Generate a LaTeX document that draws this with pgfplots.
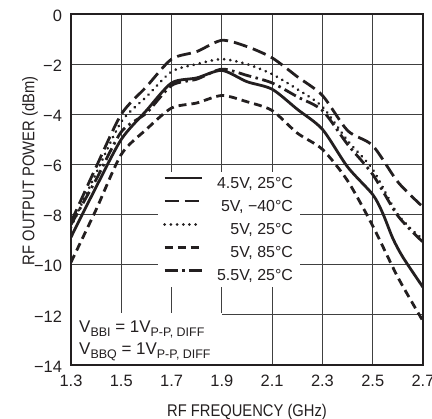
\documentclass[border=0pt]{standalone}
\usepackage{fontspec}
\setmainfont{Liberation Sans}
\newfontfamily\cond[FakeStretch=0.87]{Liberation Sans}
\usepackage{pgfplots}
\pgfplotsset{compat=1.18}
\definecolor{ink}{HTML}{231F20}
\newcommand{\sub}[1]{\raisebox{-3.5bp}{\fontsize{12.5}{12}\selectfont #1}}
\begin{document}
\begin{tikzpicture}
\begin{axis}[
  name=ax,
  scale only axis, width=352bp, height=351bp,
  xmin=1.3, xmax=2.7, ymin=-14, ymax=0,
  xtick={1.3,1.5,1.7,1.9,2.1,2.3,2.5,2.7},
  xticklabels={1.3,1.5,1.7,1.9,2.1,2.3,2.5,2.7},
  ytick={-14,-12,-10,-8,-6,-4,-2,0},
  yticklabels={−14,−12,−10,−8,−6,−4,−2,0},
  grid=major,
  major grid style={black!75, line width=0.8bp},
  axis line style={line width=1.5bp, ink},
  tick style={draw=none},
  ticklabel style={font=\fontsize{16.5}{16.5}\selectfont, text=ink},
  xticklabel style={yshift=-7bp},
  yticklabel style={xshift=-5.5bp, yshift=-1.5bp},
  xlabel={RF FREQUENCY (GHz)},
  ylabel={RF OUTPUT POWER (dBm)},
  xlabel style={font=\cond\fontsize{17}{17}\selectfont, text=ink, at={(axis description cs:0.5,-0.134)}, anchor=center},
  ylabel style={font=\cond\fontsize{17}{17}\selectfont, text=ink, at={(axis description cs:-0.1165,0.553)}, anchor=center},
  legend cell align=right,
  legend image code/.code={\draw[#1] (0bp,5.5bp) -- (37bp,5.5bp);},
  legend style={at={(rel axis cs:0.247,0.55)}, anchor=north west, fill=white, draw=none,
    inner xsep=5bp, inner ysep=3bp, row sep=6.5bp,
    font=\fontsize{16}{16}\selectfont, text=ink,
    /tikz/every odd column/.append style={column sep=12bp}},
  every axis plot/.append style={ink, smooth, tension=0.45},
]
\fill[white] ([xshift=0.8bp,yshift=0.8bp]axis cs:1.3,-14) rectangle (axis cs:1.9,-11.93);
% 4.5V, 25C
\addplot[line width=2.8bp] coordinates {
(1.3,-8.9) (1.4,-6.9) (1.5,-5.0) (1.6,-3.85) (1.7,-2.75) (1.8,-2.55) (1.9,-2.25)
(2.0,-2.7) (2.1,-3.0) (2.2,-3.8) (2.3,-4.6) (2.4,-6.1) (2.5,-7.2) (2.54,-7.95)
(2.58,-8.95) (2.62,-9.7) (2.7,-10.9)};
\addlegendentry{4.5V, 25°C}
% 5V, -40C
\addplot[line width=2.8bp, dash pattern=on 14bp off 6bp] coordinates {
(1.3,-8.3) (1.4,-6.1) (1.5,-4.0) (1.6,-2.9) (1.7,-1.8) (1.8,-1.5) (1.9,-1.05)
(2.0,-1.3) (2.1,-1.75) (2.2,-2.5) (2.3,-3.25) (2.4,-4.65) (2.5,-5.25) (2.6,-6.7) (2.7,-7.7)};
\addlegendentry{5V, −40°C}
% 5V, 25C
\addplot[line width=3bp, line cap=round, dash pattern=on 0.01bp off 6.2bp] coordinates {
(1.3,-8.5) (1.4,-6.35) (1.5,-4.3) (1.6,-3.3) (1.7,-2.3) (1.8,-2.0) (1.9,-1.8)
(2.0,-2.0) (2.1,-2.4) (2.2,-3.0) (2.3,-3.7) (2.4,-5.05) (2.5,-6.2) (2.6,-8.0) (2.7,-9.0)};
\addlegendentry{5V, 25°C}
% 5V, 85C
\addplot[line width=2.8bp, dash pattern=on 8bp off 5bp] coordinates {
(1.3,-9.9) (1.4,-7.8) (1.5,-5.6) (1.6,-4.6) (1.7,-3.75) (1.8,-3.55) (1.9,-3.25)
(2.0,-3.5) (2.1,-3.85) (2.2,-4.75) (2.3,-5.4) (2.4,-6.65) (2.5,-8.45) (2.6,-10.5) (2.7,-12.25)};
\addlegendentry{5V, 85°C}
% 5.5V, 25C
\addplot[line width=2.8bp, dash pattern=on 13bp off 4.5bp on 2.5bp off 4.5bp] coordinates {
(1.3,-8.4) (1.4,-6.6) (1.5,-4.7) (1.6,-3.95) (1.7,-2.85) (1.8,-2.6) (1.9,-2.2)
(2.0,-2.45) (2.1,-2.75) (2.2,-3.3) (2.3,-3.85) (2.4,-5.2) (2.5,-6.4) (2.6,-8.05) (2.7,-9.1)};
\addlegendentry{5.5V, 25°C}
\node[anchor=base west, inner sep=0pt, text=ink, font=\fontsize{17}{17}\selectfont] at (axis cs:1.332,-12.72) {V\sub{BBI} = 1V\sub{P-P, DIFF}};
\node[anchor=base west, inner sep=0pt, text=ink, font=\fontsize{17}{17}\selectfont] at (axis cs:1.332,-13.6) {V\sub{BBQ} = 1V\sub{P-P, DIFF}};
\end{axis}
\pgfresetboundingbox
\path ([xshift=-71bp,yshift=-54bp]ax.south west) rectangle ([xshift=9bp,yshift=14bp]ax.north east);
\end{tikzpicture}
\end{document}
